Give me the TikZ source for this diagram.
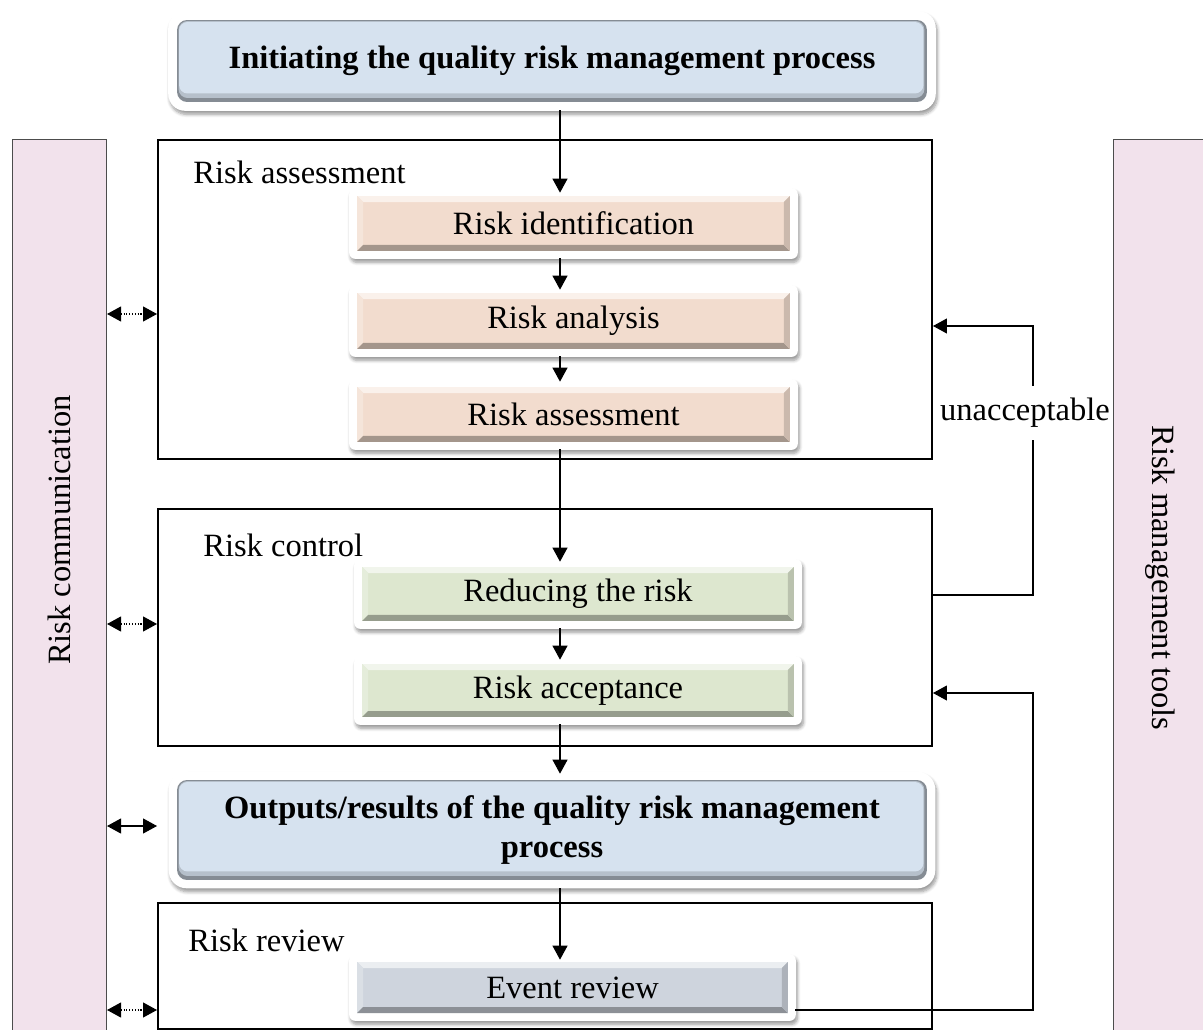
\documentclass[tikz,border=0pt]{standalone}
\usepackage{fontspec}
\setmainfont{Liberation Serif}
\usetikzlibrary{arrows.meta,backgrounds,shadows.blur}

\definecolor{barpink}{HTML}{F2E2EC}
\definecolor{pinkbox}{HTML}{F2DCCE}
\definecolor{greenbox}{HTML}{DDE7CF}
\definecolor{bluebox}{HTML}{D6E2EF}
\definecolor{graybox}{HTML}{CED4DD}

\newcommand{\txt}{\fontsize{18.5}{22}\selectfont}

% white rounded mat with a soft shadow behind a step box
\newcommand{\whitemat}[3]{%
  \begin{scope}[on background layer]
    \fill[white, rounded corners=#3,
          blur shadow={shadow xshift=0.03cm, shadow yshift=-0.07cm,
                       shadow blur steps=6, shadow opacity=40}]
      ([shift={(-#2,#2)}]#1.north west) rectangle ([shift={(#2,-#2)}]#1.south east);
  \end{scope}}

\tikzset{
  bar/.style={rectangle, fill=barpink, draw=black!70, line width=0.6pt, inner sep=0pt},
  frame/.style={rectangle, draw=black, line width=1.2pt, inner sep=0pt},
  label/.style={font=\txt, inner sep=0pt},
  % square bevelled step box
  sqbox/.style={rectangle, inner sep=0pt, fill=#1, font=\txt,
    path picture={
      \fill[#1!40!white] (path picture bounding box.north west) -- (path picture bounding box.north east)
        -- ++(-0.12cm,-0.12cm) -- ([shift={(0.12cm,-0.12cm)}]path picture bounding box.north west) -- cycle;
      \fill[#1!75!white] (path picture bounding box.north west) -- ++(0.12cm,-0.12cm)
        -- ([shift={(0.12cm,0.12cm)}]path picture bounding box.south west) -- (path picture bounding box.south west) -- cycle;
      \fill[#1!68!black] (path picture bounding box.south west) -- (path picture bounding box.south east)
        -- ++(-0.12cm,0.12cm) -- ([shift={(0.12cm,0.12cm)}]path picture bounding box.south west) -- cycle;
      \fill[#1!84!black] (path picture bounding box.north east) -- (path picture bounding box.south east)
        -- ++(-0.12cm,0.12cm) -- ([shift={(-0.12cm,-0.12cm)}]path picture bounding box.north east) -- cycle;
    }},
  % rounded bevelled heading box
  rbox/.style={rectangle, rounded corners=0.2cm, inner sep=0pt, fill=#1!62!black,
    font=\txt\bfseries, align=center,
    path picture={
      \fill[#1!85!black, rounded corners=0.18cm]
        ([shift={(0.03cm,-0.02cm)}]path picture bounding box.north west) rectangle
        ([shift={(-0.05cm,0.08cm)}]path picture bounding box.south east);
      \fill[#1, rounded corners=0.17cm]
        ([shift={(0.04cm,-0.04cm)}]path picture bounding box.north west) rectangle
        ([shift={(-0.07cm,0.17cm)}]path picture bounding box.south east);
    }},
  arr/.style={-{Triangle[length=0.28cm,width=0.3cm]}, line width=0.6pt},
  darr/.style={{Triangle[length=0.28cm,width=0.3cm]}-{Triangle[length=0.28cm,width=0.3cm]}, line width=0.6pt},
}

\begin{document}
\begin{tikzpicture}[x=0.02cm, y=-0.02cm]
  \path[use as bounding box] (0,0) rectangle (1203,1030);
  \clip (0,0) rectangle (1203,1030);

  % side bars
  \node[bar, minimum width=1.88cm, minimum height=18cm, anchor=north west] (comm) at (12,139) {};
  \node[bar, minimum width=2.2cm, minimum height=18cm, anchor=north west] (tools) at (1113,139) {};
  \node[label, rotate=90] (commlabel) at (59,530) {Risk communication};
  \node[label, rotate=-90] (toolslabel) at (1160,578) {Risk management tools};

  % stage frames
  \node[frame, minimum width=15.48cm, minimum height=6.38cm] (ra) at (545,299.5) {};
  \node[frame, minimum width=15.48cm, minimum height=4.74cm] (rc) at (545,627.5) {};
  \node[frame, minimum width=15.48cm, minimum height=2.52cm] (rr) at (545,966) {};
  \node[label, anchor=west] (ralabel) at (193,172) {Risk assessment};
  \node[label, anchor=west] (rclabel) at (203,545) {Risk control};
  \node[label, anchor=west] (rrlabel) at (188,940) {Risk review};

  % step boxes
  \node[rbox=bluebox, minimum width=15cm, minimum height=1.64cm] (init) at (552,61)
    {Initiating the quality risk management process};
  \whitemat{init}{0.17cm}{0.34cm}

  \node[sqbox=pinkbox, minimum width=8.66cm, minimum height=1.1cm] (ident) at (573.5,223.5) {Risk identification};
  \whitemat{ident}{0.15cm}{0.12cm}
  \node[sqbox=pinkbox, minimum width=8.66cm, minimum height=1.12cm] (analysis) at (573.5,321) {Risk analysis};
  \whitemat{analysis}{0.15cm}{0.12cm}
  \node[sqbox=pinkbox, minimum width=8.66cm, minimum height=1.1cm] (assess) at (573.5,414.5) {Risk assessment};
  \whitemat{assess}{0.15cm}{0.12cm}

  \node[sqbox=greenbox, minimum width=8.64cm, minimum height=1.08cm] (reduce) at (578,594) {Reducing the risk};
  \whitemat{reduce}{0.15cm}{0.12cm}
  \node[sqbox=greenbox, minimum width=8.64cm, minimum height=1.06cm] (accept) at (578,690.5) {Risk acceptance};
  \whitemat{accept}{0.15cm}{0.12cm}

  \node[rbox=bluebox, minimum width=15cm, minimum height=2cm] (outputs) at (552,830)
    {Outputs/results of the quality risk management\\process};
  \whitemat{outputs}{0.16cm}{0.36cm}

  \node[sqbox=graybox, minimum width=8.62cm, minimum height=1.02cm] (event) at (572.5,987.5) {Event review};
  \whitemat{event}{0.15cm}{0.12cm}

  % main flow
  \coordinate (spine) at (560,0);
  \draw[arr, shorten <=0.16cm, shorten >=0.06cm] (init.south -| spine) -- (ident.north -| spine);
  \draw[arr, shorten <=0.14cm, shorten >=0.06cm] (ident.south -| spine) -- (analysis.north -| spine);
  \draw[arr, shorten <=0.14cm, shorten >=0.1cm] (analysis.south -| spine) -- (assess.north -| spine);
  \draw[arr, shorten <=0.14cm, shorten >=0.1cm] (assess.south -| spine) -- (reduce.north -| spine);
  \draw[arr, shorten <=0.14cm, shorten >=0.08cm] (reduce.south -| spine) -- (accept.north -| spine);
  \draw[arr, shorten <=0.14cm, shorten >=0.12cm] (accept.south -| spine) -- (outputs.north -| spine);
  \draw[arr, shorten <=0.16cm, shorten >=0.04cm] (outputs.south -| spine) -- (event.north -| spine);

  % communication links
  \coordinate (c1) at (0,314);
  \coordinate (c2) at (0,624);
  \coordinate (c3) at (0,826);
  \coordinate (c4) at (0,1010);
  \draw[darr, densely dotted] (c1 -| comm.east) -- (c1 -| ra.west);
  \draw[darr, densely dotted] (c2 -| comm.east) -- (c2 -| rc.west);
  \draw[darr] (c3 -| comm.east) -- (c3 -| rc.west);
  \draw[darr, densely dotted] (c4 -| comm.east) -- (c4 -| rr.west);

  % feedback loops
  \coordinate (u1) at (1033,595);
  \coordinate (u2) at (1033,326);
  \draw[arr] (u1 -| rc.east) -- (u1) -- (u2) -- (u2 -| ra.east);
  \node[label, fill=white, inner xsep=1pt, minimum height=1.08cm] (unacc) at (1025,413) {unacceptable};

  \coordinate (e1) at (1033,1010);
  \coordinate (e2) at (1033,693);
  \draw[arr, shorten <=0.14cm] (e1 -| event.east) -- (e1) -- (e2) -- (e2 -| rc.east);
\end{tikzpicture}
\end{document}
